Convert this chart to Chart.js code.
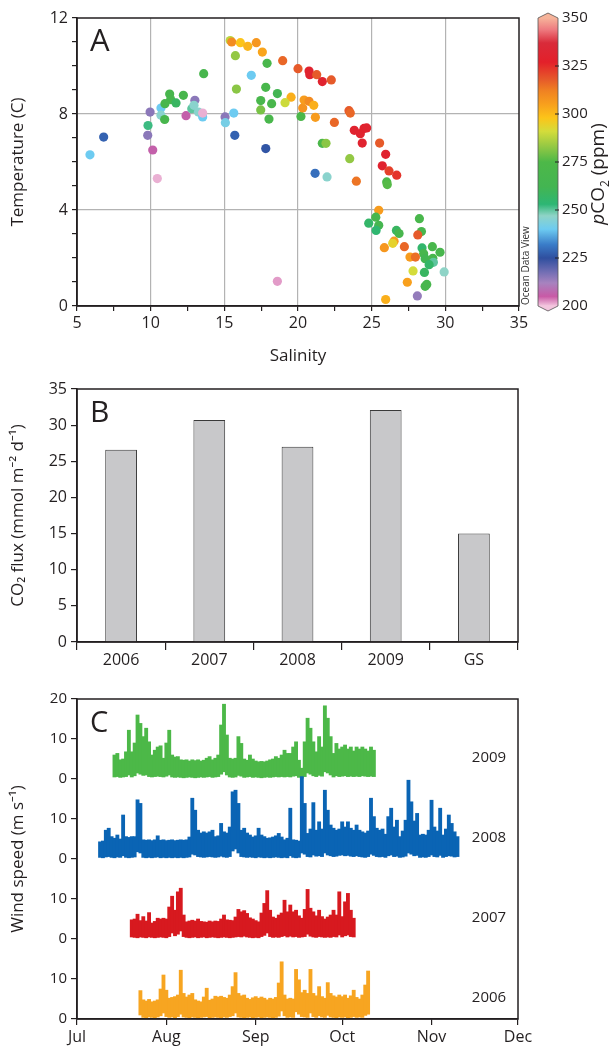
<!DOCTYPE html>
<html>
<head>
<meta charset="utf-8">
<script src="https://cdn.jsdelivr.net/npm/chart.js"></script>
<style>
  body { margin: 0; background: #fff; }
  #wrap { position: relative; width: 612px; height: 1052px; }
  canvas { position: absolute; left: 0; }
</style>
</head>
<body>
<div id="wrap">
  <canvas id="chartA" width="612" height="370" style="top:0"></canvas>
  <canvas id="chartB" width="612" height="300" style="top:370px"></canvas>
  <canvas id="chartC" width="612" height="382" style="top:670px"></canvas>
</div>
<script>
// ---- panel A: salinity / temperature / pCO2 ----
const salinity = [5.88, 6.81, 9.96, 9.82, 9.80, 10.14, 10.70, 10.70, 10.95, 11.29, 11.36, 10.97, 11.72, 12.22, 13.00, 12.40, 12.79, 12.94, 13.24, 13.53,
  13.53, 13.60, 15.05, 15.07, 15.64, 15.71, 17.81, 15.40, 15.50, 16.09, 16.59, 17.17, 17.58, 15.75, 17.90, 18.96, 20.00, 16.83, 15.82, 17.81,
  18.60, 17.47, 18.21, 19.53, 19.12, 17.47, 18.03, 20.20, 20.32, 20.75, 20.80, 21.27, 21.65, 22.26, 20.41, 20.75, 21.07, 21.18, 22.47, 23.46,
  23.55, 23.82, 24.23, 24.48, 24.66, 24.36, 25.54, 25.95, 25.72, 21.65, 21.90, 23.51, 26.18, 26.70, 26.02, 26.06, 21.16, 21.97, 23.96, 25.48,
  25.28, 24.80, 25.48, 25.30, 28.24, 26.68, 26.86, 28.38, 28.13, 26.52, 26.43, 25.86, 27.22, 28.42, 29.12, 29.64, 28.53, 27.60, 27.97, 28.63,
  29.15, 29.19, 28.90, 29.92, 28.58, 27.81, 27.42, 28.74, 28.63, 28.10, 25.95, 10.45, 18.60];
const temperature = [6.30, 7.04, 8.08, 7.52, 7.11, 6.50, 8.25, 7.95, 7.77, 8.83, 8.60, 8.43, 8.46, 8.78, 8.57, 7.93, 8.22, 8.36, 8.08, 7.88,
  8.04, 9.68, 7.88, 7.64, 8.04, 7.11, 6.56, 11.06, 11.00, 10.97, 10.82, 10.97, 10.58, 10.43, 10.11, 10.22, 9.89, 9.61, 9.04, 9.11,
  8.85, 8.56, 8.43, 8.70, 8.47, 8.17, 7.79, 7.90, 8.25, 9.79, 9.64, 9.64, 9.35, 9.42, 8.58, 8.53, 8.36, 7.86, 7.65, 8.14,
  8.04, 7.32, 7.18, 7.40, 7.42, 6.79, 6.79, 6.32, 5.84, 6.78, 6.78, 6.14, 5.63, 5.45, 5.17, 5.06, 5.53, 5.38, 5.20, 3.99,
  3.70, 3.45, 3.36, 3.15, 3.64, 3.15, 3.02, 3.10, 2.96, 2.70, 2.61, 2.43, 2.47, 2.42, 2.47, 2.24, 2.18, 2.04, 2.04, 1.97,
  1.99, 1.82, 1.72, 1.42, 1.40, 1.46, 0.99, 0.90, 0.82, 0.42, 0.27, 5.31, 1.03];
const pco2 = [240, 228, 215, 252, 215, 206, 240, 246, 268, 268, 268, 268, 258, 268, 215, 206, 250, 246, 246, 240,
  201, 268, 215, 242, 240, 228, 226, 288, 310, 298, 301, 307, 304, 283, 270, 316, 318, 240, 282, 270,
  262, 270, 270, 302, 290, 280, 270, 272, 308, 330, 330, 318, 330, 318, 306, 310, 302, 306, 316, 318,
  316, 330, 330, 328, 330, 330, 318, 330, 330, 272, 282, 283, 322, 324, 272, 276, 230, 246, 314, 306,
  268, 256, 265, 254, 270, 258, 268, 268, 318, 306, 294, 307, 316, 255, 270, 268, 268, 306, 315, 262,
  268, 250, 256, 247, 258, 291, 305, 268, 268, 214, 302, 201, 202];
const cbTicks = [200, 225, 250, 275, 300, 325, 350];

// ---- panel B: CO2 flux ----
const fluxLabels = ['2006', '2007', '2008', '2009', 'GS'];
const fluxValues = [26.6, 30.7, 27.0, 32.1, 15.0];

// ---- panel C: daily wind speed range (days since 1 Jul) ----
const monthDays = [0, 31, 62, 92, 123, 153];
const monthNames = ['Jul', 'Aug', 'Sep', 'Oct', 'Nov', 'Dec'];
const windYears = ['2006', '2007', '2008', '2009'];
const windStart = [22, 19, 8, 13];
const bandBase = [0, 20, 40, 60];

const wind2006Max = [7.1, 4.8, 4.5, 4.9, 4.3, 4.5, 4.8, 7.5, 11.0, 7.2,
  5.2, 5.4, 5.6, 6.0, 12.2, 6.4, 5.5, 6.0, 6.4, 4.8,
  4.5, 4.3, 5.5, 7.7, 4.7, 5.0, 5.7, 5.5, 5.7, 5.4,
  5.2, 6.0, 8.1, 11.6, 6.4, 5.8, 6.0, 5.2, 4.9, 5.3,
  5.6, 5.2, 5.5, 5.2, 4.8, 5.2, 5.0, 5.4, 9.0, 14.3,
  6.0, 5.0, 5.2, 5.0, 12.4, 9.8, 6.6, 7.2, 6.4, 12.4,
  6.4, 5.8, 8.1, 5.6, 5.2, 9.1, 6.4, 5.8, 5.5, 6.0,
  5.6, 6.0, 5.2, 5.8, 7.2, 5.4, 5.0, 6.0, 8.5, 12.0];
const wind2006Min = [1.0, 0.4, 0.3, 0.5, 0.4, 0.3, 0.5, 0.8, 1.5, 0.6,
  0.4, 0.5, 0.3, 0.6, 1.2, 0.5, 0.4, 0.3, 0.5, 0.4,
  0.3, 0.4, 0.5, 0.6, 0.3, 0.4, 0.5, 0.4, 0.3, 0.5,
  0.4, 0.6, 0.8, 1.5, 0.5, 0.4, 0.3, 0.4, 0.5, 0.3,
  0.4, 0.5, 0.3, 0.4, 0.5, 0.4, 0.3, 0.4, 0.7, 2.0,
  0.8, 0.4, 0.5, 0.4, 1.8, 1.2, 0.6, 0.5, 0.4, 1.5,
  0.6, 0.4, 0.8, 0.5, 0.4, 0.9, 0.5, 0.4, 0.3, 0.5,
  0.4, 0.5, 0.3, 0.4, 0.6, 0.4, 0.5, 0.4, 0.9, 1.2];

const wind2007Max = [4.8, 5.0, 6.2, 4.6, 5.6, 4.5, 6.6, 4.0, 4.4, 5.2,
  5.0, 5.2, 5.0, 8.0, 10.7, 7.2, 11.8, 12.7, 6.0, 4.3,
  4.5, 4.7, 4.5, 5.0, 4.4, 4.3, 4.2, 4.5, 4.3, 4.5,
  4.4, 5.0, 6.0, 4.8, 4.7, 4.6, 5.5, 7.4, 6.8, 7.1,
  6.4, 5.3, 5.0, 4.6, 4.3, 6.5, 8.9, 12.1, 7.2, 5.5,
  5.2, 6.0, 6.5, 9.7, 6.8, 8.5, 6.8, 7.2, 5.8, 5.2,
  7.4, 12.4, 7.7, 6.8, 5.8, 7.2, 5.6, 5.0, 5.5, 6.0,
  7.2, 6.0, 11.8, 5.6, 9.3, 11.4, 7.2, 5.2];
const wind2007Min = [0.5, 0.4, 0.3, 0.5, 0.4, 0.3, 0.5, 0.4, 0.3, 0.4,
  0.5, 0.4, 0.3, 0.6, 1.5, 0.8, 1.2, 2.0, 0.6, 0.4,
  0.3, 0.4, 0.5, 0.3, 0.4, 0.5, 0.3, 0.4, 0.5, 0.4,
  0.3, 0.4, 0.5, 0.4, 0.3, 0.4, 0.5, 0.6, 0.5, 0.7,
  0.5, 0.4, 0.3, 0.4, 0.3, 0.6, 0.9, 1.5, 0.6, 0.4,
  0.5, 0.4, 0.6, 0.8, 0.5, 0.7, 0.5, 0.6, 0.4, 0.5,
  0.6, 1.2, 0.7, 0.5, 0.4, 0.6, 0.5, 0.4, 0.5, 0.4,
  0.6, 0.5, 1.0, 0.5, 0.8, 1.0, 0.6, 0.5];

const wind2008Max = [4.3, 4.5, 7.2, 7.7, 5.6, 5.2, 6.0, 5.0, 11.0, 5.6,
  5.4, 5.6, 5.6, 14.8, 13.9, 4.8, 4.7, 4.8, 4.6, 4.8,
  5.8, 4.7, 4.8, 4.6, 4.7, 4.8, 4.6, 4.7, 4.8, 4.7,
  4.8, 5.5, 15.2, 12.2, 7.2, 6.5, 6.8, 6.5, 6.8, 7.2,
  5.6, 5.8, 8.9, 6.8, 6.5, 8.0, 16.8, 17.2, 13.9, 7.2,
  7.7, 6.5, 6.0, 5.5, 5.8, 7.7, 6.0, 5.6, 5.2, 5.3,
  5.5, 5.8, 6.4, 5.5, 4.8, 5.2, 12.7, 4.8, 4.7, 4.5,
  20.6, 13.9, 6.4, 7.5, 14.1, 7.2, 9.3, 7.5, 17.2, 12.2,
  8.5, 7.7, 7.2, 7.5, 9.3, 8.0, 9.3, 7.7, 7.2, 8.5,
  7.2, 6.8, 6.5, 7.0, 15.2, 10.6, 7.7, 7.2, 7.5, 6.2,
  10.6, 12.7, 8.0, 9.7, 5.6, 7.0, 9.7, 19.7, 14.3, 9.5,
  11.4, 6.0, 6.2, 6.0, 7.2, 14.7, 8.0, 7.0, 12.7, 6.0,
  7.5, 11.0, 8.9, 6.8, 5.6];
const wind2008Min = [0.4, 0.3, 0.5, 0.6, 0.4, 0.3, 0.5, 0.4, 0.8, 0.4,
  0.3, 0.4, 0.5, 1.8, 1.5, 0.4, 0.3, 0.4, 0.3, 0.4,
  0.5, 0.3, 0.4, 0.3, 0.4, 0.3, 0.4, 0.3, 0.4, 0.3,
  0.4, 0.5, 1.2, 1.0, 0.6, 0.5, 0.4, 0.5, 0.6, 0.5,
  0.4, 0.5, 0.7, 0.5, 0.4, 0.6, 2.0, 2.5, 1.5, 0.6,
  0.5, 0.4, 0.5, 0.4, 0.3, 0.5, 0.4, 0.3, 0.4, 0.3,
  0.4, 0.5, 0.4, 0.3, 0.4, 0.3, 0.8, 0.4, 0.3, 0.4,
  1.5, 1.2, 0.6, 0.5, 1.0, 0.7, 0.8, 0.6, 1.5, 1.0,
  0.8, 0.6, 0.7, 0.9, 1.0, 0.8, 0.9, 0.7, 0.6, 0.8,
  0.6, 0.5, 0.4, 0.6, 1.2, 0.9, 0.6, 0.5, 0.6, 0.4,
  0.8, 1.0, 0.6, 0.7, 0.4, 0.5, 0.7, 1.5, 1.2, 0.8,
  0.9, 0.4, 0.5, 0.4, 0.6, 1.0, 0.6, 0.5, 0.9, 0.4,
  0.6, 0.8, 0.7, 0.5, 0.6];

const wind2009Max = [6.0, 6.4, 4.8, 5.0, 6.8, 12.2, 6.8, 9.0, 16.0, 13.9,
  10.6, 12.7, 9.3, 6.0, 7.2, 8.0, 8.3, 5.2, 9.0, 12.2,
  6.0, 5.5, 5.6, 4.8, 4.7, 4.8, 4.5, 4.8, 4.6, 4.8,
  4.5, 4.7, 5.2, 5.6, 4.8, 5.2, 6.0, 13.5, 18.7, 11.0,
  5.2, 5.0, 5.2, 10.6, 8.9, 5.0, 4.7, 6.0, 5.0, 4.5,
  4.3, 4.4, 4.3, 4.5, 4.8, 5.0, 5.6, 5.2, 6.0, 7.2,
  6.4, 6.4, 8.0, 9.3, 4.7, 2.7, 9.3, 15.2, 12.7, 9.3,
  6.8, 10.6, 8.0, 18.3, 15.2, 10.6, 6.4, 8.9, 7.5, 8.0,
  8.5, 7.5, 8.0, 7.0, 8.0, 7.5, 8.0, 7.5, 7.0, 8.0,
  7.2];
const wind2009Min = [0.5, 0.6, 0.4, 0.5, 0.6, 1.0, 0.5, 0.8, 1.5, 1.2,
  0.9, 1.0, 0.6, 0.5, 0.6, 0.7, 0.6, 0.5, 0.7, 1.0,
  0.5, 0.4, 0.5, 0.4, 0.3, 0.4, 0.5, 0.4, 0.3, 0.4,
  0.5, 0.4, 0.5, 0.6, 0.4, 0.5, 0.6, 1.2, 1.8, 1.0,
  0.5, 0.4, 0.5, 0.9, 0.7, 0.4, 0.5, 0.6, 0.4, 0.5,
  0.4, 0.3, 0.4, 0.5, 0.4, 0.5, 0.6, 0.5, 0.6, 0.5,
  0.6, 0.5, 0.7, 0.8, 0.4, 0.2, 0.6, 1.5, 1.2, 0.8,
  0.6, 0.9, 0.7, 1.8, 1.5, 1.0, 0.5, 0.8, 0.6, 0.7,
  0.8, 0.6, 0.7, 0.6, 0.7, 0.6, 0.8, 0.7, 0.6, 0.7,
  0.6];

const windMax = [wind2006Max, wind2007Max, wind2008Max, wind2009Max];
const windMin = [wind2006Min, wind2007Min, wind2008Min, wind2009Min];
const windColors = ['#f7a521', '#d7191f', '#0a64b4', '#4cb848'];

// ---- shared look ----
const FONT = "'Open Sans', 'Noto Sans', sans-serif";
const INK = '#231f20';
const TICK = 16;
Chart.defaults.font.family = FONT;
Chart.defaults.color = INK;

// pCO2 colour scale, as in the colour bar
const cbStops = [[200, '#f3c6de'], [205, '#c85aa6'], [212, '#a783bf'], [218, '#6f6db3'], [225, '#2f4f9f'],
  [232, '#3a7cc8'], [240, '#6dcbf1'], [247, '#8fd4c7'], [253, '#2db674'], [262, '#43b552'], [275, '#4db848'],
  [283, '#93c844'], [291, '#d4dc3b'], [298, '#fcc419'], [305, '#f8a01d'], [312, '#f08222'], [318, '#e65a2a'],
  [327, '#e3202a'], [337, '#d92b3a'], [344, '#ee7b80'], [350, '#f6b39a']];

function hex2rgb(h) { return [1, 3, 5].map(i => parseInt(h.slice(i, i + 2), 16)); }
function co2Color(v) {
  if (v <= cbStops[0][0]) return cbStops[0][1];
  for (let i = 1; i < cbStops.length; i++) {
    if (v <= cbStops[i][0]) {
      const [v0, c0] = cbStops[i - 1], [v1, c1] = cbStops[i];
      const t = (v - v0) / (v1 - v0);
      const a = hex2rgb(c0), b = hex2rgb(c1);
      return 'rgb(' + a.map((x, k) => Math.round(x + (b[k] - x) * t)).join(',') + ')';
    }
  }
  return cbStops[cbStops.length - 1][1];
}

// box around the plot + panel letter
const framePlugin = {
  id: 'frame',
  afterDraw(chart, args, opts) {
    const { ctx, chartArea: a } = chart;
    ctx.save();
    ctx.strokeStyle = INK;
    ctx.lineWidth = 1.5;
    ctx.strokeRect(a.left, a.top, a.right - a.left, a.bottom - a.top);
    ctx.fillStyle = INK;
    ctx.font = (opts.size || 30) + 'px ' + FONT;
    ctx.textBaseline = 'alphabetic';
    ctx.fillText(opts.letter, a.left + 13, a.top + 33);
    ctx.restore();
  }
};

// colour bar for panel A
const colorbarPlugin = {
  id: 'colorbar',
  afterDraw(chart) {
    const { ctx, chartArea: a } = chart;
    const x0 = 538, x1 = 558, xm = (x0 + x1) / 2;
    const top = a.top, bot = a.bottom;
    const yOf = v => bot - (v - 200) / 150 * (bot - top);
    ctx.save();
    const g = ctx.createLinearGradient(0, bot, 0, top);
    cbStops.forEach(([v, c]) => g.addColorStop((v - 200) / 150, c));
    const outline = () => {
      ctx.beginPath();
      ctx.moveTo(x0, top); ctx.lineTo(xm, top - 5); ctx.lineTo(x1, top);
      ctx.lineTo(x1, bot); ctx.lineTo(xm, bot + 5); ctx.lineTo(x0, bot);
      ctx.closePath();
    };
    outline();
    ctx.fillStyle = g;
    ctx.fill();
    ctx.fillStyle = cbStops[cbStops.length - 1][1];
    ctx.beginPath(); ctx.moveTo(x0, top + 0.5); ctx.lineTo(xm, top - 5); ctx.lineTo(x1, top + 0.5); ctx.fill();
    ctx.fillStyle = cbStops[0][1];
    ctx.beginPath(); ctx.moveTo(x0, bot - 0.5); ctx.lineTo(xm, bot + 5); ctx.lineTo(x1, bot - 0.5); ctx.fill();
    outline();
    ctx.strokeStyle = '#555';
    ctx.lineWidth = 0.8;
    ctx.stroke();
    // ticks and labels
    ctx.fillStyle = INK;
    ctx.strokeStyle = INK;
    ctx.lineWidth = 1;
    ctx.font = '15px ' + FONT;
    ctx.textAlign = 'left';
    ctx.textBaseline = 'middle';
    cbTicks.forEach(v => {
      const y = yOf(v);
      if (v > 200 && v < 350) { ctx.beginPath(); ctx.moveTo(x1 - 3, y); ctx.lineTo(x1 + 1, y); ctx.stroke(); }
      ctx.fillText(String(v), x1 + 4, y);
    });
    // title: pCO2 (ppm)
    ctx.translate(604, 174);
    ctx.rotate(-Math.PI / 2);
    ctx.textBaseline = 'alphabetic';
    const fBig = '19px ' + FONT, fIt = 'italic 19px ' + FONT, fSub = '12px ' + FONT;
    const parts = [['p', fIt, 0], ['CO', fBig, 0], ['2', fSub, 5], [' (ppm)', fBig, 0]];
    let w = 0;
    parts.forEach(p => { ctx.font = p[1]; w += ctx.measureText(p[0]).width; });
    let x = -w / 2;
    parts.forEach(p => { ctx.font = p[1]; ctx.fillText(p[0], x, p[2]); x += ctx.measureText(p[0]).width; });
    ctx.restore();
    // Ocean Data View
    ctx.save();
    ctx.translate(529, bot - 1);
    ctx.rotate(-Math.PI / 2);
    ctx.fillStyle = '#333';
    ctx.font = '10px ' + FONT;
    ctx.textAlign = 'left';
    ctx.textBaseline = 'alphabetic';
    ctx.fillText('Ocean Data View', 0, 0);
    ctx.restore();
  }
};

// year labels for panel C
const yearPlugin = {
  id: 'years',
  afterDraw(chart) {
    const { ctx } = chart;
    const y = chart.scales.y;
    ctx.save();
    ctx.fillStyle = INK;
    ctx.font = '15px ' + FONT;
    ctx.textAlign = 'center';
    ctx.textBaseline = 'middle';
    windYears.forEach((yr, i) => ctx.fillText(yr, 489, y.getPixelForValue(bandBase[i] + 5.3)));
    ctx.restore();
  }
};

const noHover = { legend: { display: false }, tooltip: { enabled: false } };
const transparent = 'rgba(0,0,0,0)';

// ---- chart A ----
new Chart(document.getElementById('chartA'), {
  type: 'scatter',
  data: {
    datasets: [{
      data: salinity.map((s, i) => ({ x: s, y: temperature[i] })),
      pointBackgroundColor: pco2.map(co2Color),
      pointBorderWidth: 0,
      pointRadius: 4.6
    }]
  },
  options: {
    responsive: false,
    animation: false,
    events: [],
    layout: { padding: { left: 0, top: 18, right: 93, bottom: 0 } },
    plugins: Object.assign({ frame: { letter: 'A', size: 31 } }, noHover),
    scales: {
      x: {
        type: 'linear', min: 5, max: 35,
        afterFit: s => { s.height = 64; },
        ticks: { stepSize: 2.5, autoSkip: false, maxRotation: 0, font: { size: TICK }, padding: 3,
          callback: v => (v % 5 === 0 ? v : '') },
        grid: {
          color: c => (c.tick && c.tick.value % 5 === 0 && c.tick.value > 5 && c.tick.value < 35) ? '#b3b3b3' : transparent,
          tickColor: INK, tickLength: 5, lineWidth: 1.2
        },
        border: { color: INK, width: 1.5 },
        title: { display: true, text: 'Salinity', font: { size: 17 }, padding: { top: 5 } }
      },
      y: {
        min: 0, max: 12,
        afterFit: s => { s.width = 77; },
        ticks: { stepSize: 1, autoSkip: false, font: { size: TICK }, padding: 4,
          callback: v => (v % 4 === 0 ? v : '') },
        grid: {
          color: c => (c.tick && (c.tick.value === 4 || c.tick.value === 8)) ? '#b3b3b3' : transparent,
          tickColor: INK, tickLength: 5, lineWidth: 1.2
        },
        border: { color: INK, width: 1.5 },
        title: { display: true, text: 'Temperature (C)', font: { size: 17 }, padding: { top: 8, bottom: 2 } }
      }
    }
  },
  plugins: [framePlugin, colorbarPlugin]
});

// ---- chart B ----
new Chart(document.getElementById('chartB'), {
  type: 'bar',
  data: {
    labels: fluxLabels,
    datasets: [{
      data: fluxValues,
      backgroundColor: '#c8c8ca',
      borderColor: '#3a3a3a',
      borderWidth: 1,
      barPercentage: 0.36,
      categoryPercentage: 1
    }]
  },
  options: {
    responsive: false,
    animation: false,
    events: [],
    layout: { padding: { left: 0, top: 19, right: 94, bottom: 0 } },
    plugins: Object.assign({ frame: { letter: 'B', size: 30 } }, noHover),
    scales: {
      x: {
        afterFit: s => { s.height = 28; },
        ticks: { font: { size: TICK }, padding: 1 },
        grid: { offset: true, drawOnChartArea: false, tickColor: INK, tickLength: 8, lineWidth: 1.2 },
        border: { color: INK, width: 1.5 }
      },
      y: {
        min: 0, max: 35,
        afterFit: s => { s.width = 77; },
        ticks: { stepSize: 5, font: { size: TICK }, padding: 4 },
        grid: { drawOnChartArea: false, tickColor: INK, tickLength: 6, lineWidth: 1.2 },
        border: { color: INK, width: 1.5 },
        title: { display: true, text: 'CO\u2082 flux (mmol m\u207B\u00B2 d\u207B\u00B9)', font: { size: 17 }, padding: { top: 8, bottom: 2 } }
      }
    }
  },
  plugins: [framePlugin]
});

// ---- chart C ----
new Chart(document.getElementById('chartC'), {
  type: 'bar',
  data: {
    datasets: windYears.map((yr, k) => ({
      label: yr,
      data: windMax[k].map((hi, i) => ({ x: windStart[k] + i, y: [windMin[k][i] + bandBase[k], hi + bandBase[k]] })),
      backgroundColor: windColors[k],
      borderWidth: 0,
      grouped: false,
      barThickness: 3.2
    }))
  },
  options: {
    responsive: false,
    animation: false,
    events: [],
    layout: { padding: { left: 0, top: 29, right: 94, bottom: 0 } },
    plugins: Object.assign({ frame: { letter: 'C', size: 29 } }, noHover),
    scales: {
      x: {
        type: 'linear', min: 0, max: 153, offset: false,
        afterFit: s => { s.height = 33; },
        afterBuildTicks: s => { s.ticks = monthDays.map(v => ({ value: v })); },
        ticks: { autoSkip: false, maxRotation: 0, font: { size: TICK }, padding: 3,
          callback: (v, i) => monthNames[i] },
        grid: { offset: false, drawOnChartArea: false, tickColor: INK, tickLength: 6, lineWidth: 1.2 },
        border: { color: INK, width: 1.5 }
      },
      y: {
        min: 0, max: 80,
        afterFit: s => { s.width = 77; },
        ticks: { stepSize: 10, autoSkip: false, font: { size: 15 }, padding: 4,
          callback: v => (v === 80 ? 20 : v % 20) },
        grid: { drawOnChartArea: false, tickColor: INK, tickLength: 6, lineWidth: 1.2 },
        border: { color: INK, width: 1.5 },
        title: { display: true, text: 'Wind speed (m s\u207B\u00B9)', font: { size: 17 }, padding: { top: 8, bottom: 2 } }
      }
    }
  },
  plugins: [framePlugin, yearPlugin]
});
</script>
</body>
</html>
